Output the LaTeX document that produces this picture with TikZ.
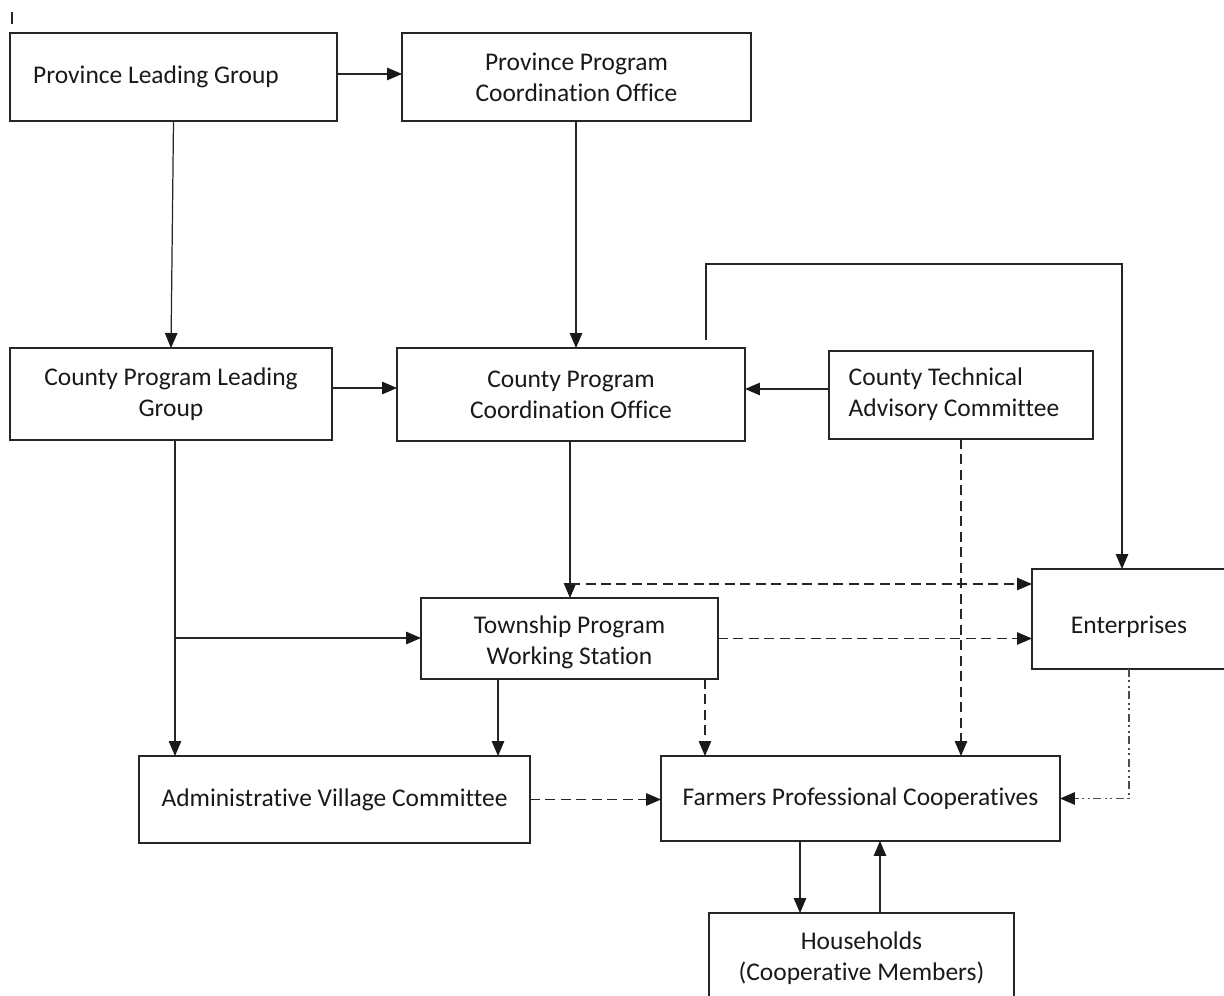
\documentclass[tikz,border=0pt]{standalone}
\usepackage{fontspec}
\setmainfont{Carlito}[Ligatures={NoCommon,NoRequired,NoContextual}]
\usetikzlibrary{arrows.meta,calc}

\begin{document}
\begin{tikzpicture}[x=0.02cm, y=-0.02cm,
  box/.style={shape=rectangle, draw=black!85, line width=0.8pt, align=center, inner sep=0pt, outer sep=0pt,
    text=black!90, font=\fontsize{14.5}{17.6}\selectfont},
  link/.style={draw=black!85, line width=0.7pt, -{Triangle[length=0.3cm,width=0.25cm,color=black!90]}},
  dashlink/.style={link, dash pattern=on 0.2cm off 0.11cm},
  dotlink/.style={link, draw=black!70, line width=0.9pt, dash pattern=on 0.16cm off 0.07cm on 0.04cm off 0.07cm on 0.04cm off 0.07cm}]

\useasboundingbox (0,0) rectangle (1224,996);
\draw[black!85, line width=0.6pt] (12,12) -- (12,24);

\node[box, minimum width=6.54cm, minimum height=1.76cm] (n1) at (173.5,77) {\hspace*{-0.7cm}Province Leading Group};
\node[box, minimum width=6.98cm, minimum height=1.76cm] (n2) at (576.5,77) {Province Program\\Coordination Office};
\node[box, minimum width=6.44cm, minimum height=1.84cm] (n3) at (171,394) {County Program Leading\\Group};
\node[box, minimum width=6.96cm, minimum height=1.86cm] (n4) at (571,394.5) {County Program\\Coordination Office};
\node[box, minimum width=5.28cm, minimum height=1.76cm] (n5) at (961,395) {\hspace*{-0.28cm}\begin{tabular}{@{}l@{}}County Technical\\Advisory Committee\end{tabular}};
\node[box, minimum width=3.88cm, minimum height=2.0cm] (n6) at (1129,619) {\raisebox{-0.16cm}[\height][\depth]{Enterprises}};
\node[box, minimum width=5.94cm, minimum height=1.62cm] (n7) at (569.5,638.5) {\raisebox{-0.09cm}[\height][\depth]{\begin{tabular}{@{}c@{}}Township Program\\Working Station\end{tabular}}};
\node[box, minimum width=7.82cm, minimum height=1.74cm] (n8) at (334.5,799.5) {Administrative Village Committee};
\node[box, minimum width=7.98cm, minimum height=1.70cm] (n9) at (860.5,798.5) {Farmers Professional Cooperatives};
\node[box, minimum width=6.10cm, minimum height=1.80cm] (n10) at (861.5,958) {Households\\(Cooperative Members)};

\coordinate (c1) at (175,638);
\coordinate (c2) at (570,584);
\coordinate (c3) at (706,340);
\coordinate (c4) at (1122,264);

\draw[link] ([yshift=0.06cm]n1.east) -- ([yshift=0.06cm]n2.west);
\draw[link] (n1.south) -- (n3.north);
\draw[link] ([xshift=-0.01cm]n2.south) -- ([xshift=-0.01cm]n2.south |- n4.north);
\draw[link] ([yshift=0.12cm]n3.east) -- ([yshift=0.12cm]n3.east -| n4.west);
\draw[link] ([yshift=0.12cm]n5.west) -- ([yshift=0.12cm]n5.west -| n4.east);
\draw[link] (c3) |- (c4) -- (c4 |- n6.north);
\draw[link] ([xshift=-0.02cm]n4.south) -- ([xshift=-0.02cm]n4.south |- n7.north);
\draw[dashlink] (c2) -- (c2 -| n6.west);
\draw[link] (n3.south -| c1) -- (n8.north -| c1);
\draw[link] (c1) -- (c1 -| n7.west);
\draw[dashlink] (n7.east) -- (n7.east -| n6.west);
\draw[link] ([xshift=-1.43cm]n7.south) -- ([xshift=-1.43cm]n7.south |- n8.north);
\draw[dashlink] ([xshift=2.71cm]n7.south) -- ([xshift=2.71cm]n7.south |- n9.north);
\draw[dashlink] (n5.south) -- (n5.south |- n9.north);
\draw[dashlink] (n8.east) -- (n8.east -| n9.west);
\draw[dotlink] (n6.south) |- (n9.east);
\draw[link] ([xshift=-1.21cm]n9.south) -- ([xshift=-1.21cm]n9.south |- n10.north);
\draw[link] ([xshift=0.39cm]n9.south |- n10.north) -- ([xshift=0.39cm]n9.south);
\end{tikzpicture}
\end{document}
